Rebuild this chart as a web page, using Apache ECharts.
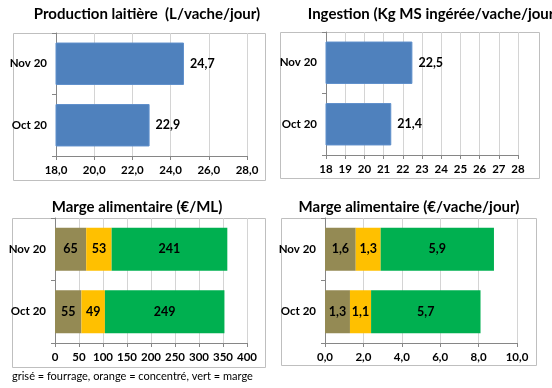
<!DOCTYPE html>
<html>
<head>
<meta charset="utf-8">
<script src="https://cdn.jsdelivr.net/npm/echarts@6/dist/echarts.min.js"></script>
<style>html,body{margin:0;padding:0;background:#fff}#c{width:552px;height:388px}</style>
</head>
<body>
<div id="c"></div>
<script>
const categories = ['Oct 20', 'Nov 20'];
const production = [22.9, 24.7];
const ingestion = [21.4, 22.5];
const margeML_fourrage = [55, 65];
const margeML_concentre = [49, 53];
const margeML_marge = [249, 241];
const margeVJ_fourrage = [1.3, 1.6];
const margeVJ_concentre = [1.1, 1.3];
const margeVJ_marge = [5.7, 5.9];
const titles = ['Production laitière  (L/vache/jour)', 'Ingestion (Kg MS ingérée/vache/jour)', 'Marge alimentaire (€/ML)', 'Marge alimentaire (€/vache/jour)'];
const footnote = 'grisé = fourrage, orange = concentré, vert = marge';

const FONT = 'Lato, "Open Sans", sans-serif';
const C_BLUE = '#4F81BD', C_GREY = '#948A54', C_ORANGE = '#FFC000', C_GREEN = '#00B050';
const fmt1 = v => v.toFixed(1).replace('.', ',');
const fmt0 = v => String(Math.round(v));

const grids = [
  {left: 56, top: 33, width: 191, height: 123},
  {left: 326, top: 32, width: 192, height: 123},
  {left: 55, top: 218, width: 192, height: 125},
  {left: 325, top: 218, width: 192, height: 125}
];
const xSpecs = [
  {min: 18, max: 28, interval: 2, f: fmt1},
  {min: 18, max: 28, interval: 1, f: fmt0},
  {min: 0, max: 400, interval: 50, f: fmt0},
  {min: 0, max: 10, interval: 2, f: fmt1}
];
const xAxis = xSpecs.map((s, i) => ({
  type: 'value', gridIndex: i, min: s.min, max: s.max, interval: s.interval,
  axisLine: {show: true, lineStyle: {color: '#868686'}},
  axisTick: {show: true, length: 4, lineStyle: {color: '#868686'}},
  splitLine: {show: true, lineStyle: {color: '#d4d4d4'}},
  axisLabel: {formatter: v => s.f(v), fontFamily: FONT, fontWeight: 'bold', fontSize: 11.5, color: '#000', margin: 8}
}));
const yAxis = grids.map((g, i) => ({
  type: 'category', gridIndex: i, data: categories,
  axisLine: {show: true, lineStyle: {color: '#868686'}},
  axisTick: {show: true, length: 4, lineStyle: {color: '#868686'}},
  axisLabel: {fontFamily: FONT, fontWeight: 'bold', fontSize: 11.5, color: '#000', margin: 9}
}));

const lblRight = f => ({show: true, position: 'right', distance: 6, formatter: p => f(p.value), fontFamily: FONT, fontWeight: 'bold', fontSize: 12.5, color: '#000'});
const lblIn = f => ({show: true, position: 'inside', formatter: p => f(p.value), fontFamily: FONT, fontWeight: 'bold', fontSize: 12.5, color: '#000'});

const series = [
  {type: 'bar', xAxisIndex: 0, yAxisIndex: 0, data: production, barCategoryGap: '31%',
   itemStyle: {color: C_BLUE, borderColor: '#5f8fcb', borderWidth: 1}, label: lblRight(fmt1)},
  {type: 'bar', xAxisIndex: 1, yAxisIndex: 1, data: ingestion, barCategoryGap: '31%',
   itemStyle: {color: C_BLUE, borderColor: '#5f8fcb', borderWidth: 1}, label: lblRight(fmt1)},
  {type: 'bar', xAxisIndex: 2, yAxisIndex: 2, stack: 'a', data: margeML_fourrage, barCategoryGap: '31%', itemStyle: {color: C_GREY}, label: lblIn(fmt0)},
  {type: 'bar', xAxisIndex: 2, yAxisIndex: 2, stack: 'a', data: margeML_concentre, itemStyle: {color: C_ORANGE}, label: lblIn(fmt0)},
  {type: 'bar', xAxisIndex: 2, yAxisIndex: 2, stack: 'a', data: margeML_marge, itemStyle: {color: C_GREEN}, label: lblIn(fmt0)},
  {type: 'bar', xAxisIndex: 3, yAxisIndex: 3, stack: 'b', data: margeVJ_fourrage, barCategoryGap: '31%', itemStyle: {color: C_GREY}, label: lblIn(fmt1)},
  {type: 'bar', xAxisIndex: 3, yAxisIndex: 3, stack: 'b', data: margeVJ_concentre, itemStyle: {color: C_ORANGE}, label: lblIn(fmt1)},
  {type: 'bar', xAxisIndex: 3, yAxisIndex: 3, stack: 'b', data: margeVJ_marge, itemStyle: {color: C_GREEN}, label: lblIn(fmt1)}
];

const titlePos = [[142, 2], [428, 2], [132, 195], [404, 195]];
const title = titles.map((t, i) => ({
  text: t, left: titlePos[i][0], top: titlePos[i][1], textAlign: 'center',
  textStyle: {fontFamily: FONT, fontWeight: 'bold', fontSize: 15, color: '#000'}
}));

const boxes = [[13, 33, 252, 147], [280, 32, 259, 146], [12, 218, 253, 149], [281, 218, 255, 147]];
const graphic = boxes.map(b => ({
  type: 'rect', shape: {x: b[0] + 0.5, y: b[1] + 0.5, width: b[2], height: b[3]},
  style: {fill: 'none', stroke: '#bfbfbf', lineWidth: 1}, z: 0, silent: true
}));
graphic.push({type: 'text', left: 12, top: 371, style: {text: footnote, fontFamily: FONT, fontSize: 11, fill: '#000'}});

const chart = echarts.init(document.getElementById('c'), null, {renderer: 'canvas'});
chart.setOption({animation: false, backgroundColor: '#fff', title, grid: grids, xAxis, yAxis, series, graphic});
</script>
</body>
</html>
